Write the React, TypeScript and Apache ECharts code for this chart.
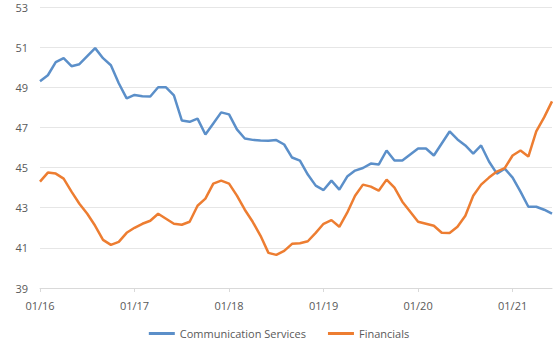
import React, { useEffect, useRef } from "react";
import * as echarts from "echarts";

const years = ["16", "17", "18", "19", "20", "21"];
const categories: string[] = [];
for (const y of years) {
  for (let m = 1; m <= 12; m++) {
    if (y === "21" && m > 6) break;
    categories.push(String(m).padStart(2, "0") + "/" + y);
  }
}

const communicationServices = [
  49.3, 49.6, 50.25, 50.45, 50.05, 50.15, 50.55, 50.95, 50.45, 50.1, 49.2, 48.45,
  48.62, 48.55, 48.54, 49.0, 49.0, 48.6, 47.35, 47.28, 47.44, 46.65, 47.2, 47.75,
  47.65, 46.9, 46.45, 46.38, 46.35, 46.34, 46.37, 46.15, 45.5, 45.35, 44.65, 44.1,
  43.88, 44.35, 43.9, 44.55, 44.85, 44.98, 45.2, 45.15, 45.85, 45.35, 45.35, 45.65,
  45.95, 45.95, 45.6, 46.2, 46.8, 46.4, 46.1, 45.7, 46.1, 45.3, 44.7, 44.95,
  44.5, 43.8, 43.05, 43.05, 42.9, 42.7,
];

const financials = [
  44.3, 44.75, 44.7, 44.45, 43.8, 43.2, 42.7, 42.1, 41.4, 41.15, 41.3, 41.75,
  42.0, 42.2, 42.35, 42.7, 42.45, 42.2, 42.15, 42.3, 43.1, 43.45, 44.2, 44.35,
  44.2, 43.6, 42.9, 42.3, 41.6, 40.75, 40.65, 40.85, 41.2, 41.23, 41.33, 41.75,
  42.2, 42.38, 42.05, 42.75, 43.6, 44.15, 44.05, 43.85, 44.4, 44.0, 43.3, 42.8,
  42.3, 42.2, 42.1, 41.75, 41.74, 42.05, 42.6, 43.6, 44.15, 44.5, 44.8, 44.97,
  45.6, 45.85, 45.55, 46.8, 47.5, 48.3,
];

const yTicks = { min: 39, max: 53, interval: 2 };

export default function App() {
  const ref = useRef<HTMLDivElement>(null);
  useEffect(() => {
    if (!ref.current) return;
    const chart = echarts.init(ref.current, null, { renderer: "svg" });
    const font = "'Open Sans', 'Noto Sans', sans-serif";
    chart.setOption({
      animation: false,
      backgroundColor: "#ffffff",
      textStyle: { fontFamily: font },
      grid: { left: 40, right: 6, top: 7, bottom: 63, containLabel: false },
      legend: {
        bottom: 7,
        left: "center",
        icon: "rect",
        itemWidth: 26,
        itemHeight: 3,
        itemGap: 22,
        textStyle: { color: "#595959", fontSize: 11, fontFamily: font },
        data: ["Communication Services", "Financials"],
      },
      xAxis: {
        type: "category",
        data: categories,
        boundaryGap: false,
        axisLine: { show: true, lineStyle: { color: "#d9d9d9", width: 1 } },
        axisTick: { show: true, interval: 11, length: 4, lineStyle: { color: "#d9d9d9" } },
        axisLabel: {
          interval: 11,
          color: "#595959",
          fontSize: 11,
          margin: 12,
          fontFamily: font,
        },
        splitLine: { show: false },
      },
      yAxis: {
        type: "value",
        min: yTicks.min,
        max: yTicks.max,
        interval: yTicks.interval,
        axisLine: { show: false },
        axisTick: { show: false },
        axisLabel: { color: "#595959", fontSize: 11, margin: 12, fontFamily: font },
        splitLine: { lineStyle: { color: "#e6e6e6", width: 1 } },
      },
      series: [
        {
          name: "Communication Services",
          type: "line",
          data: communicationServices,
          showSymbol: false,
          symbol: "none",
          lineStyle: { color: "#5b8fc9", width: 2.5 },
          itemStyle: { color: "#5b8fc9" },
        },
        {
          name: "Financials",
          type: "line",
          data: financials,
          showSymbol: false,
          symbol: "none",
          lineStyle: { color: "#ed7d31", width: 2.5 },
          itemStyle: { color: "#ed7d31" },
        },
      ],
    });
    return () => chart.dispose();
  }, []);
  return (
    <div
      ref={ref}
      style={{ position: "fixed", left: 0, top: 0, width: 558, height: 351 }}
    />
  );
}
